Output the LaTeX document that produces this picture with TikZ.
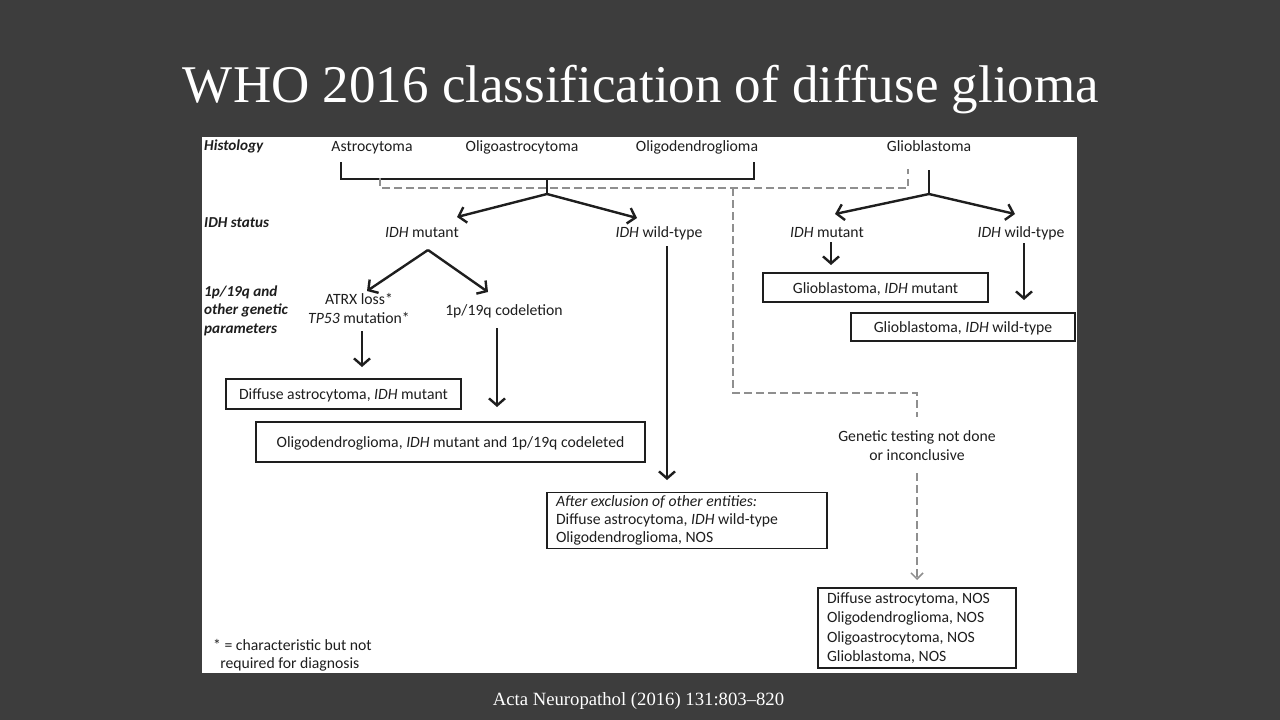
\documentclass[tikz,border=0pt]{standalone}
\usepackage{fontspec}
\setmainfont{Liberation Serif}
\newfontfamily\calib{Carlito}
\usetikzlibrary{arrows.meta}
\definecolor{bgc}{HTML}{3D3D3D}
\definecolor{ink}{HTML}{1E1E1E}
\definecolor{dashgray}{HTML}{8F8F8F}
\begin{document}
\frenchspacing
\begin{tikzpicture}[x=1pt,y=-1pt,
  txt/.style={font=\calib\fontsize{15.7}{19}\selectfont, text=ink, inner sep=0},
  one/.style={txt, text height=13pt, text depth=1.5pt},
  hdr/.style={font=\calib\bfseries\itshape\fontsize{15.2}{18.5}\selectfont, text=ink, inner sep=0, align=flush left, anchor=base west},
  box/.style={draw=ink, line width=1.3pt, txt, inner xsep=9pt, inner ysep=0pt},
  arr/.style={-{Straight Barb[length=7pt,width=16pt,line width=2.4pt]}, line width=2.4pt, draw=ink},
  ln/.style={line width=2.4pt, draw=ink},
  dsh/.style={draw=dashgray, line width=1.8pt, dash pattern=on 7.5pt off 4.5pt},
  darr/.style={dsh, -{Straight Barb[length=6pt,width=12pt,line width=1.5pt]}}
]
\useasboundingbox (0,0) rectangle (1280,720);
\fill[bgc] (0,0) rectangle (1280,720);
\fill[white] (202,137) rectangle (1077,673);

% title and citation
\node[text=white, font=\fontsize{53}{58}\selectfont, inner sep=0, anchor=base] (title) at (641,102) {WHO 2016 classification of diffuse glioma};
\node[text=white, font=\fontsize{18.7}{21}\selectfont, inner sep=0, anchor=base] (cite) at (638.5,705) {Acta Neuropathol (2016) 131:803–820};

% headers
\node[hdr] (hHist) at (204,150) {Histology};
\node[hdr] (hIDH) at (204,227) {IDH status};
\node[hdr] (hGen) at (204,333) {1p/19q and\\other genetic\\parameters};

% histology
\node[one] (astro) at (372,146) {Astrocytoma};
\node[one] (oligoastro) at (522,146) {Oligoastrocytoma};
\node[one] (oligo) at (697,146) {Oligodendroglioma};
\node[one] (gbm) at (929,146) {Glioblastoma};

% IDH level
\node[one] (idhm) at (422,232) {\textit{IDH} mutant};
\node[one] (idhw) at (659,232) {\textit{IDH} wild-type};
\node[one] (gidhm) at (827,232) {\textit{IDH} mutant};
\node[one] (gidhw) at (1021,232) {\textit{IDH} wild-type};

% genetic level
\node[txt, align=center] (atrx) at (359,308.5) {ATRX loss*\\\textit{TP53} mutation*};
\node[one] (codel) at (504,310) {1p/19q codeletion};

% boxes
\node[box, one, minimum width=235pt, minimum height=30pt] (da) at (343.5,394) {Diffuse astrocytoma, \textit{IDH} mutant};
\node[box, one, minimum width=389pt, minimum height=40pt] (od) at (450.5,442) {Oligodendroglioma, \textit{IDH} mutant and 1p/19q codeleted};
\node[box, text width=262pt, minimum height=56pt, align=flush left, font=\calib\fontsize{15.7}{18}\selectfont] (ae) at (687,520.5) {\textit{After exclusion of other entities:}\\Diffuse astrocytoma, \textit{IDH} wild-type\\Oligodendroglioma, NOS};
\node[box, one, minimum width=225pt, minimum height=29pt] (gm) at (875.5,287.5) {Glioblastoma, \textit{IDH} mutant};
\node[box, one, minimum width=224pt, minimum height=28pt] (gw) at (963,327) {Glioblastoma, \textit{IDH} wild-type};
\node[box, text width=180pt, minimum height=80pt, align=flush left, font=\calib\fontsize{15.7}{19.3}\selectfont] (nos) at (917,628) {Diffuse astrocytoma, NOS\\Oligodendroglioma, NOS\\Oligoastrocytoma, NOS\\Glioblastoma, NOS};
\node[txt, align=center] (gt) at (917,445.5) {Genetic testing not done\\or inconclusive};
\node[txt, align=flush left, anchor=base west, font=\calib\fontsize{15.7}{18}\selectfont] (foot) at (213,668) {* = characteristic but not\\\ \ required for diagnosis};

% coordinates
\coordinate (bl) at (341,163);
\coordinate (bl2) at (341,179);
\coordinate (br2) at (754,179);
\coordinate (br) at (754,163);
\coordinate (stemtop) at (547,179);
\coordinate (stem) at (547,194);
\coordinate (tipM) at (457,217);
\coordinate (tipW) at (637,218);
\coordinate (gstemtop) at (929,170);
\coordinate (gstem) at (929,194);
\coordinate (gtipM) at (835,214);
\coordinate (gtipW) at (1015,214);
\coordinate (mapex) at (428,250);
\coordinate (mtipL) at (367,291);
\coordinate (mtipR) at (488,292);
\coordinate (a1s) at (362,331);
\coordinate (a1e) at (362,367);
\coordinate (a2s) at (497,328);
\coordinate (a2e) at (497,407);
\coordinate (a3s) at (667,246);
\coordinate (a3e) at (667,480);
\coordinate (a4s) at (831,242);
\coordinate (a4e) at (831,265);
\coordinate (a5s) at (1024,243);
\coordinate (a5e) at (1024,300);

% dashed coords
\coordinate (dl) at (380,178);
\coordinate (dl2) at (380,188);
\coordinate (dr2) at (908,188);
\coordinate (dr) at (908,169);
\coordinate (dv) at (733,188);
\coordinate (dv2) at (733,393);
\coordinate (dh2) at (917,393);
\coordinate (dh3) at (917,417);
\coordinate (gtb) at (917,473);
\coordinate (gtend) at (917,580);

% solid bracket and arrows
\draw[ln, line cap=rect] (bl) -- (bl2) -- (br2) -- (br);
\draw[ln] (stemtop) -- (stem);
\draw[arr] (stem) -- (tipM);
\draw[arr] (stem) -- (tipW);
\draw[ln] (gstemtop) -- (gstem);
\draw[arr] (gstem) -- (gtipM);
\draw[arr] (gstem) -- (gtipW);
\draw[arr] (mapex) -- (mtipL);
\draw[arr] (mapex) -- (mtipR);

\draw[arr] (a1s) -- (a1e);
\draw[arr] (a2s) -- (a2e);
\draw[arr] (a3s) -- (a3e);
\draw[arr] (a4s) -- (a4e);
\draw[arr] (a5s) -- (a5e);

% dashed
\draw[dsh] (dl) -- (dl2) -- (dr2) -- (dr);
\draw[dsh] (dv) -- (dv2) -- (dh2) -- (dh3);
\draw[darr] (gtb) -- (gtend);
\end{tikzpicture}
\end{document}
